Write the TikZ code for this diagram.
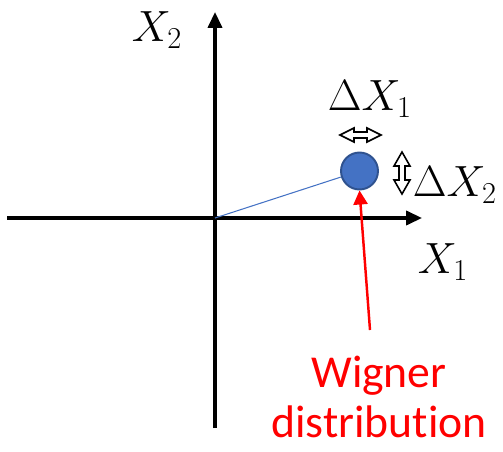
\documentclass[tikz,border=0pt]{standalone}
\usepackage{fontspec}
\setmainfont{Carlito}[Ligatures=CommonOff]
\usetikzlibrary{arrows.meta,calc}
\definecolor{wblue}{HTML}{4472C4}
\definecolor{wnavy}{HTML}{2F528F}
\definecolor{wred}{HTML}{FF0000}
\begin{document}
\begin{tikzpicture}[x=0.02cm,y=-0.02cm,
  axis/.style={line width=1.8pt, -{Triangle[length=9pt,width=8pt]}},
  mathlab/.style={font=\fontsize{24}{28}\selectfont, inner sep=0pt},
  redlab/.style={font=\fontsize{26}{28}\selectfont, text=wred, inner sep=0pt, align=center},
  blockarrow/.style={draw=black, line width=0.9pt, fill=white, line join=miter}]
\useasboundingbox (0,0) rectangle (503,452);
% axes
\coordinate (xl) at (7,218);
\coordinate (xr) at (422,218);
\coordinate (yb) at (215,428);
\coordinate (yt) at (215,12);
\coordinate (o) at (215,218);
\draw[axis] (xl) -- (xr);
\draw[axis] (yb) -- (yt);
% labels
\node[mathlab] (lx2) at (157,30) {$X_2$};
\node[mathlab] (lx1) at (443,262) {$X_1$};
\node[mathlab] (ldx1) at (370,99) {$\Delta X_1$};
\node[mathlab] (ldx2) at (455,185) {$\Delta X_2$};
% spot
\node[circle, fill=wblue, draw=wnavy, line width=1.1pt, minimum size=0.74cm, inner sep=0pt] (spot) at (359.5,171) {};
\draw[wblue, line width=0.6pt] (o) -- (spot);
% block arrows
\draw[blockarrow] (340,135) -- (354,128) -- (354,132) -- (367,132) -- (367,128) -- (381,135)
  -- (367,142) -- (367,138) -- (354,138) -- (354,142) -- cycle;
\draw[blockarrow] (402,152) -- (410,166) -- (405,166) -- (405,180) -- (410,180) -- (402,194)
  -- (394,180) -- (399,180) -- (399,166) -- (394,166) -- cycle;
% Wigner
\node[redlab] (wig) at (379,397) {Wigner\\distribution};
\coordinate (rtail) at (370,330);
\draw[wred, line width=1.4pt, -{Triangle[length=8pt,width=8pt]}] (rtail) -- (spot.south);
\end{tikzpicture}
\end{document}
